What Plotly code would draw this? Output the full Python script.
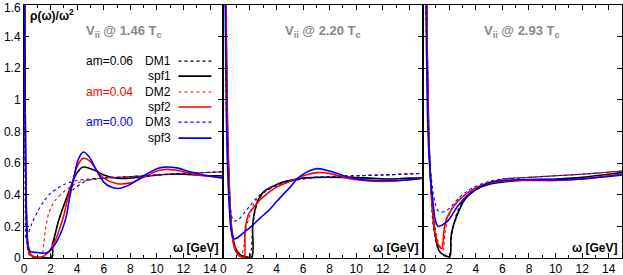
import plotly.graph_objects as go
from plotly.subplots import make_subplots

# ---------------- data ----------------
PANEL_TITLES = ["V<sub>ii</sub> @ 1.46 T<sub>c</sub>",
                "V<sub>ii</sub> @ 2.20 T<sub>c</sub>",
                "V<sub>ii</sub> @ 2.93 T<sub>c</sub>"]
MASS_LABELS = ["am=0.06", "am=0.04", "am=0.00"]
DM_NAMES = ["DM1", "DM2", "DM3"]
SPF_NAMES = ["spf1", "spf2", "spf3"]
X_TICKS = [0, 2, 4, 6, 8, 10, 12, 14]
Y_TICKS = [0, 0.2, 0.4, 0.6, 0.8, 1.0, 1.2, 1.4, 1.6]
Y_TICK_TEXT = ["0", "0.2", "0.4", "0.6", "0.8", "1", "1.2", "1.4", ""]
Y_TOP_LABEL = "1.6"

# Panel 1 : 1.46 Tc
P1_DM1_X = [0.02, 0.06, 0.12, 0.2, 0.3, 0.5, 1.0, 1.5, 2.0, 2.1, 2.2, 2.35, 2.55, 2.8, 3.1, 3.5, 3.8, 4.5, 5.0, 6.0, 8.0, 10.0, 12.0, 15.0]
P1_DM1_Y = [2.5, 1.2, 0.5, 0.15, 0.04, 0.01, 0.003, 0.003, 0.003, 0.02, 0.07, 0.15, 0.22, 0.29, 0.35, 0.41, 0.44, 0.48, 0.495, 0.505, 0.515, 0.525, 0.535, 0.545]
P1_SPF1_X = [0.02, 0.06, 0.12, 0.2, 0.3, 0.5, 0.9, 1.5, 2.1, 2.15, 2.25, 2.55, 2.9, 3.2, 3.7, 4.0, 4.45, 5.0, 5.45, 6.0, 7.0, 8.0, 9.0, 10.0, 11.0, 12.0, 13.0, 14.0, 15.0]
P1_SPF1_Y = [2.5, 1.4, 0.6, 0.25, 0.08, 0.02, 0.005, 0.003, 0.003, 0.09, 0.12, 0.22, 0.31, 0.38, 0.49, 0.54, 0.575, 0.565, 0.55, 0.525, 0.505, 0.505, 0.515, 0.525, 0.53, 0.53, 0.525, 0.52, 0.52]
P1_DM2_X = [0.02, 0.06, 0.12, 0.2, 0.3, 0.5, 0.8, 1.3, 1.4, 1.5, 1.6, 1.85, 2.1, 2.4, 3.0, 3.5, 4.0, 5.0, 6.0, 8.0, 10.0, 12.0, 15.0]
P1_DM2_Y = [2.5, 1.2, 0.5, 0.2, 0.1, 0.03, 0.005, 0.003, 0.03, 0.1, 0.17, 0.28, 0.33, 0.37, 0.42, 0.45, 0.475, 0.495, 0.505, 0.515, 0.525, 0.535, 0.545]
P1_SPF2_X = [0.02, 0.06, 0.12, 0.2, 0.3, 0.45, 0.7, 1.0, 1.4, 1.8, 2.1, 2.4, 2.7, 3.0, 3.3, 3.7, 3.95, 4.45, 5.0, 5.45, 6.0, 7.0, 8.0, 9.0, 10.0, 10.6, 11.5, 12.5, 13.5, 15.0]
P1_SPF2_Y = [2.5, 1.4, 0.6, 0.2, 0.06, 0.02, 0.01, 0.005, 0.008, 0.035, 0.07, 0.12, 0.19, 0.27, 0.38, 0.49, 0.57, 0.63, 0.61, 0.555, 0.505, 0.47, 0.475, 0.51, 0.55, 0.56, 0.555, 0.535, 0.52, 0.51]
P1_DM3_X = [0.02, 0.06, 0.1, 0.15, 0.3, 0.6, 1.0, 1.5, 2.0, 2.5, 3.0, 3.5, 4.0, 5.0, 6.0, 8.0, 10.0, 12.0, 15.0]
P1_DM3_Y = [2.5, 1.0, 0.3, 0.12, 0.15, 0.22, 0.29, 0.36, 0.41, 0.44, 0.465, 0.48, 0.49, 0.5, 0.505, 0.515, 0.525, 0.535, 0.545]
P1_SPF3_X = [0.02, 0.06, 0.12, 0.2, 0.3, 0.5, 1.0, 1.5, 1.9, 2.16, 2.5, 2.92, 3.2, 3.43, 3.7, 4.07, 4.45, 4.9, 5.45, 6.0, 6.5, 7.1, 7.6, 8.2, 9.0, 10.0, 10.6, 11.5, 12.5, 13.5, 15.0]
P1_SPF3_Y = [2.5, 1.4, 0.6, 0.2, 0.07, 0.04, 0.035, 0.03, 0.04, 0.066, 0.11, 0.19, 0.27, 0.38, 0.49, 0.62, 0.67, 0.64, 0.555, 0.48, 0.45, 0.44, 0.45, 0.475, 0.52, 0.565, 0.575, 0.57, 0.545, 0.525, 0.505]

# Panel 2 : 2.20 Tc
P2_DM1_X = [0.1, 0.2, 0.3, 0.45, 0.65, 0.9, 1.3, 2.0, 2.1, 2.2, 2.35, 2.5, 3.0, 3.8, 5.3, 7.0, 10.0, 12.0, 15.0]
P2_DM1_Y = [3.0, 1.6, 0.8, 0.4, 0.15, 0.05, 0.01, 0.003, 0.05, 0.18, 0.28, 0.33, 0.41, 0.45, 0.495, 0.51, 0.52, 0.525, 0.535]
P2_SPF1_X = [0.1, 0.2, 0.3, 0.4, 0.48, 0.65, 0.9, 1.28, 1.7, 2.15, 2.2, 2.3, 2.54, 3.04, 3.79, 4.5, 5.3, 6.0, 7.0, 9.0, 11.0, 12.5, 14.0, 15.0]
P2_SPF1_Y = [3.0, 1.6, 0.81, 0.55, 0.38, 0.17, 0.066, 0.02, 0.008, 0.005, 0.2, 0.27, 0.35, 0.42, 0.455, 0.48, 0.495, 0.505, 0.51, 0.51, 0.505, 0.5, 0.505, 0.505]
P2_DM2_X = [0.1, 0.2, 0.33, 0.48, 0.62, 0.83, 1.1, 1.4, 1.55, 1.66, 1.91, 2.28, 3.04, 4.3, 5.3, 7.0, 10.0, 12.0, 15.0]
P2_DM2_Y = [3.0, 1.6, 0.8, 0.4, 0.2, 0.09, 0.04, 0.03, 0.08, 0.17, 0.25, 0.34, 0.42, 0.465, 0.49, 0.51, 0.52, 0.525, 0.535]
P2_SPF2_X = [0.1, 0.2, 0.33, 0.48, 0.62, 0.83, 1.1, 1.4, 1.58, 1.62, 1.7, 1.91, 2.28, 2.79, 3.5, 4.04, 5.3, 6.2, 7.06, 8.0, 9.06, 10.5, 12.58, 14.0, 15.0]
P2_SPF2_Y = [3.0, 1.6, 0.8, 0.38, 0.17, 0.066, 0.02, 0.006, 0.005, 0.15, 0.21, 0.28, 0.32, 0.37, 0.42, 0.45, 0.495, 0.525, 0.54, 0.535, 0.51, 0.49, 0.485, 0.495, 0.505]
P2_DM3_X = [0.08, 0.15, 0.25, 0.4, 0.55, 0.78, 1.1, 1.53, 2.0, 2.5, 3.3, 4.3, 5.3, 7.0, 10.0, 12.0, 15.0]
P2_DM3_Y = [3.0, 1.6, 0.8, 0.45, 0.3, 0.235, 0.24, 0.28, 0.33, 0.38, 0.43, 0.47, 0.49, 0.51, 0.52, 0.525, 0.535]
P2_SPF3_X = [0.08, 0.15, 0.25, 0.4, 0.55, 0.7, 0.83, 1.1, 1.53, 2.1, 2.79, 3.4, 4.04, 4.6, 5.05, 5.55, 6.2, 7.06, 8.0, 9.06, 10.5, 12.58, 14.0, 15.0]
P2_SPF3_Y = [3.0, 1.6, 0.8, 0.4, 0.2, 0.135, 0.12, 0.13, 0.16, 0.2, 0.254, 0.3, 0.36, 0.41, 0.45, 0.5, 0.54, 0.565, 0.55, 0.52, 0.495, 0.49, 0.495, 0.505]

# Panel 3 : 2.93 Tc
P3_DM1_X = [0.2, 0.3, 0.45, 0.6, 0.8, 1.1, 1.5, 2.0, 2.1, 2.2, 2.35, 2.6, 3.2, 4.4, 6.0, 8.0, 10.0, 12.0, 15.0]
P3_DM1_Y = [3.0, 1.6, 0.8, 0.45, 0.2, 0.07, 0.02, 0.005, 0.05, 0.15, 0.22, 0.29, 0.38, 0.45, 0.495, 0.51, 0.52, 0.53, 0.55]
P3_SPF1_X = [0.2, 0.3, 0.45, 0.6, 0.75, 0.9, 1.1, 1.28, 1.6, 2.05, 2.12, 2.2, 2.54, 3.17, 3.8, 4.42, 5.18, 5.93, 8.07, 10.08, 12.0, 14.0, 15.0]
P3_SPF1_Y = [3.0, 1.6, 0.8, 0.5, 0.3, 0.17, 0.08, 0.04, 0.02, 0.008, 0.12, 0.17, 0.26, 0.37, 0.42, 0.45, 0.47, 0.48, 0.495, 0.5, 0.51, 0.53, 0.54]
P3_DM2_X = [0.2, 0.3, 0.45, 0.6, 0.8, 1.1, 1.4, 1.55, 1.66, 1.9, 2.16, 2.66, 3.92, 6.0, 8.0, 10.0, 12.0, 15.0]
P3_DM2_Y = [3.0, 1.6, 0.8, 0.5, 0.3, 0.12, 0.06, 0.05, 0.15, 0.24, 0.31, 0.36, 0.44, 0.5, 0.51, 0.52, 0.53, 0.55]
P3_SPF2_X = [0.2, 0.3, 0.45, 0.6, 0.75, 0.9, 1.1, 1.28, 1.46, 1.53, 1.6, 1.78, 2.2, 2.66, 3.5, 4.42, 5.93, 8.07, 10.08, 12.0, 14.0, 15.0]
P3_SPF2_Y = [3.0, 1.6, 0.8, 0.5, 0.3, 0.17, 0.1, 0.07, 0.06, 0.1, 0.17, 0.245, 0.31, 0.36, 0.42, 0.46, 0.485, 0.49, 0.49, 0.5, 0.52, 0.53]
P3_DM3_X = [0.15, 0.25, 0.4, 0.6, 0.9, 1.15, 1.41, 1.8, 2.2, 2.66, 3.3, 3.92, 5.0, 6.0, 8.0, 10.0, 12.0, 15.0]
P3_DM3_Y = [3.0, 1.6, 0.9, 0.55, 0.36, 0.3, 0.29, 0.3, 0.33, 0.375, 0.42, 0.45, 0.485, 0.5, 0.51, 0.52, 0.53, 0.55]
P3_SPF3_X = [0.15, 0.25, 0.4, 0.55, 0.78, 0.95, 1.15, 1.5, 1.9, 2.66, 3.3, 3.92, 5.18, 7.0, 10.08, 12.0, 14.0, 15.0]
P3_SPF3_Y = [3.0, 1.6, 0.8, 0.55, 0.35, 0.24, 0.2, 0.21, 0.235, 0.33, 0.39, 0.43, 0.48, 0.495, 0.495, 0.5, 0.515, 0.525]

COLORS = ["#000000", "#ff0000", "#0000ff"]

PANELS = [
    [(P1_DM1_X, P1_DM1_Y, P1_SPF1_X, P1_SPF1_Y),
     (P1_DM2_X, P1_DM2_Y, P1_SPF2_X, P1_SPF2_Y),
     (P1_DM3_X, P1_DM3_Y, P1_SPF3_X, P1_SPF3_Y)],
    [(P2_DM1_X, P2_DM1_Y, P2_SPF1_X, P2_SPF1_Y),
     (P2_DM2_X, P2_DM2_Y, P2_SPF2_X, P2_SPF2_Y),
     (P2_DM3_X, P2_DM3_Y, P2_SPF3_X, P2_SPF3_Y)],
    [(P3_DM1_X, P3_DM1_Y, P3_SPF1_X, P3_SPF1_Y),
     (P3_DM2_X, P3_DM2_Y, P3_SPF2_X, P3_SPF2_Y),
     (P3_DM3_X, P3_DM3_Y, P3_SPF3_X, P3_SPF3_Y)],
]

FONT = "Liberation Sans, Arial, Helvetica, sans-serif"

fig = make_subplots(rows=1, cols=3, shared_yaxes=True, horizontal_spacing=0)

for p, panel in enumerate(PANELS):
    for i, (dx, dy, sx, sy) in enumerate(panel):
        fig.add_trace(go.Scatter(x=dx, y=dy, mode="lines", name=DM_NAMES[i],
                                 line=dict(color=COLORS[i], width=1.1, dash="dot",
                                           shape="spline", smoothing=0.8),
                                 showlegend=False), row=1, col=p + 1)
        fig.add_trace(go.Scatter(x=sx, y=sy, mode="lines", name=SPF_NAMES[i],
                                 line=dict(color=COLORS[i], width=1.6,
                                           shape="spline", smoothing=0.8),
                                 showlegend=False), row=1, col=p + 1)

axis_common = dict(showline=True, linecolor="black", linewidth=1, mirror="ticks",
                   ticks="inside", ticklen=5, tickcolor="black", showgrid=False,
                   zeroline=False, automargin=False,
                   tickfont=dict(family=FONT, size=12, color="black"))
for c in range(1, 4):
    fig.update_xaxes(range=[0, 15], tickvals=X_TICKS,
                     minor=dict(dtick=1, ticks="inside", ticklen=3, tickcolor="black"),
                     row=1, col=c, **axis_common)
    fig.update_yaxes(range=[0, 1.6001], tickvals=Y_TICKS, ticktext=Y_TICK_TEXT,
                     showticklabels=(c == 1), row=1, col=c, **axis_common)

annotations = []
xrefs = ["x domain", "x2 domain", "x3 domain"]
yrefs = ["y domain", "y2 domain", "y3 domain"]
for p in range(3):
    annotations.append(dict(text="<b>" + PANEL_TITLES[p] + "</b>", xref=xrefs[p], yref=yrefs[p],
                            x=0.5, y=0.895, xanchor="center", yanchor="middle",
                            showarrow=False, font=dict(family=FONT, size=13, color="#888888")))
    annotations.append(dict(text="<b>ω [GeV]</b>", xref=xrefs[p], yref=yrefs[p],
                            x=1, y=0.04, xanchor="right", yanchor="middle", xshift=-3,
                            showarrow=False, font=dict(family=FONT, size=12, color="black")))
annotations.append(dict(text="<b>ρ(ω)/ω<sup>2</sup></b>", xref="x domain", yref="y domain",
                        x=0.02, y=0.96, xanchor="left", yanchor="middle",
                        showarrow=False, font=dict(family=FONT, size=12, color="black")))
# top y tick label, kept fully inside the page
annotations.append(dict(text=Y_TOP_LABEL, xref="paper", yref="paper", x=0, y=1, yshift=5,
                        xanchor="right", yanchor="top", xshift=-2, showarrow=False,
                        borderpad=0, font=dict(family=FONT, size=12, color="black")))

# custom key inside panel 1 (gnuplot style: text left, sample right)
ROW_Y = [0.778, 0.719, 0.656, 0.597, 0.537, 0.474]
shapes = []
for i in range(3):
    y_dm = ROW_Y[2 * i]
    y_spf = ROW_Y[2 * i + 1]
    annotations.append(dict(text=MASS_LABELS[i], xref="x domain", yref="y domain",
                            x=0.556, y=y_dm, xanchor="right", yanchor="middle", showarrow=False,
                            font=dict(family=FONT, size=12, color=COLORS[i])))
    annotations.append(dict(text=DM_NAMES[i], xref="x domain", yref="y domain",
                            x=0.747, y=y_dm, xanchor="right", yanchor="middle", showarrow=False,
                            font=dict(family=FONT, size=12, color="black")))
    annotations.append(dict(text=SPF_NAMES[i], xref="x domain", yref="y domain",
                            x=0.747, y=y_spf, xanchor="right", yanchor="middle", showarrow=False,
                            font=dict(family=FONT, size=12, color="black")))
    shapes.append(dict(type="line", xref="x domain", yref="y domain",
                       x0=0.775, x1=0.94, y0=y_dm, y1=y_dm,
                       line=dict(color=COLORS[i], width=1.1, dash="dot")))
    shapes.append(dict(type="line", xref="x domain", yref="y domain",
                       x0=0.775, x1=0.94, y0=y_spf, y1=y_spf,
                       line=dict(color=COLORS[i], width=1.6)))

fig.update_layout(width=623, height=275, margin=dict(l=24, r=1, t=5, b=17, autoexpand=False),
                  plot_bgcolor="white", paper_bgcolor="white",
                  annotations=annotations, shapes=shapes, showlegend=False,
                  font=dict(family=FONT, size=12, color="black"))

fig.write_html("out.html", config={"displayModeBar": False},
               post_script="document.body.style.margin='0';document.body.style.overflow='hidden';")
